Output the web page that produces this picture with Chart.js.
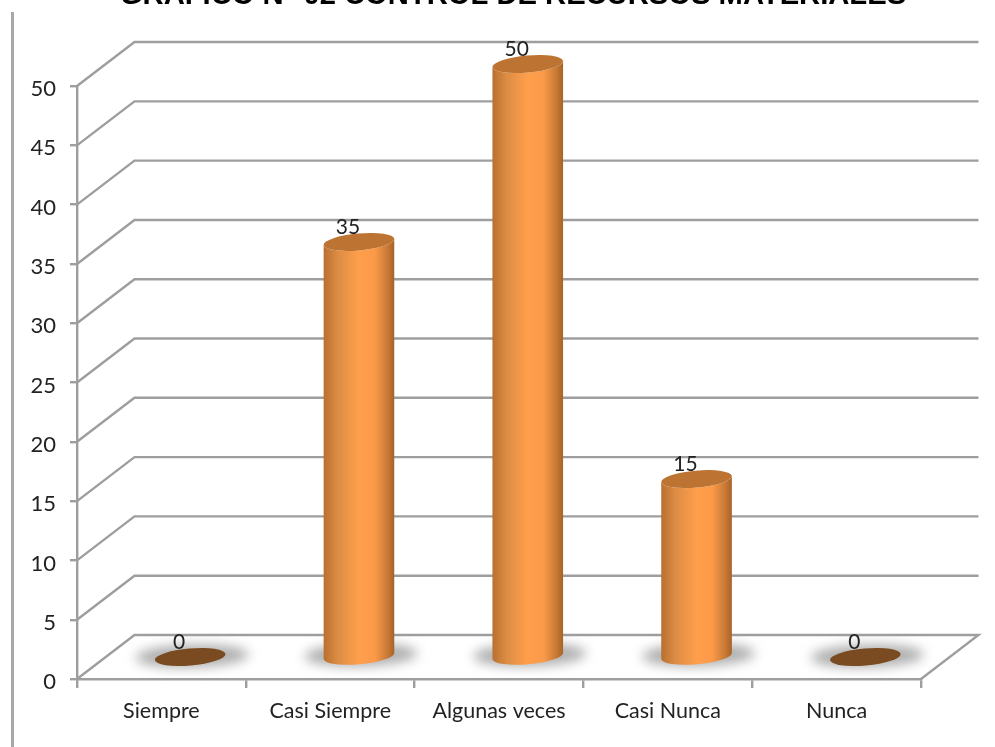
<!DOCTYPE html>
<html>
<head>
<meta charset="utf-8">
<style>
html,body{margin:0;padding:0;background:#fff;overflow:hidden}
#wrap{position:absolute;left:0;top:-22px;width:995px;height:769px}
</style>
<script src="https://cdn.jsdelivr.net/npm/chart.js@4"></script>
</head>
<body>
<div id="wrap"><canvas id="c"></canvas></div>
<script>
const categories = ['Siempre', 'Casi Siempre', 'Algunas veces', 'Casi Nunca', 'Nunca'];
const values = [0, 35, 50, 15, 0];
const chartTitle = 'GRAFICO N° 02 CONTROL DE RECURSOS MATERIALES';

const FONT = 'Lato, "Open Sans", sans-serif';
const LINE = '#9e9e9e';
const DEPTH_X = 57.5, DEPTH_Y = 44;
const TILT = -5 * Math.PI / 180;

// Back wall, side wall and floor of the pseudo-3D box, drawn from the scale ticks.
const box3d = {
  id: 'box3d',
  afterLayout(chart) {
    // Centre the heading over the whole sheet instead of the plot box
    chart.titleBlock.left = 31;
    chart.titleBlock.right = 995;
  },
  beforeDatasetsDraw(chart) {
    const { ctx, scales: { x, y } } = chart;
    const left = x.left, right = x.right;
    ctx.save();
    ctx.strokeStyle = LINE;
    ctx.lineWidth = 2.4;
    y.ticks.forEach(t => {
      const py = y.getPixelForValue(t.value);
      ctx.beginPath();
      ctx.moveTo(left, py);
      ctx.lineTo(left + DEPTH_X, py - DEPTH_Y);
      ctx.lineTo(right + DEPTH_X, py - DEPTH_Y);
      if (t.value === 0) ctx.lineTo(right, py);
      ctx.stroke();
    });
    // Frame edge running down the left of the sheet
    ctx.strokeStyle = '#a8a8a8';
    ctx.lineWidth = 3;
    ctx.beginPath();
    ctx.moveTo(12.5, 34);
    ctx.lineTo(12.5, chart.height);
    ctx.stroke();
    ctx.restore();
  }
};

// Renders each bar element as a cylinder with its floor shadow and value label.
const cylinders = {
  id: 'cylinders',
  afterDatasetsDraw(chart) {
    const { ctx } = chart;
    const meta = chart.getDatasetMeta(0);
    meta.data.forEach((bar, i) => {
      const cx = bar.x + DEPTH_X / 2;
      const top = bar.y - DEPTH_Y / 2;
      const base = bar.base - DEPTH_Y / 2;
      const rx = bar.width / 2, ry = 8.5;
      const ell = (yc) => ctx.ellipse(cx, yc, rx, ry, TILT, 0, Math.PI * 2);

      // Soft shadow on the floor
      ctx.save();
      ctx.filter = 'blur(6px)';
      ctx.fillStyle = '#aeaeae';
      ctx.beginPath();
      ctx.ellipse(cx + 2, base - 1, rx + 21, ry + 3, TILT / 3, 0, Math.PI * 2);
      ctx.fill();
      ctx.restore();

      if (values[i] === 0) {
        ctx.fillStyle = '#7a4a20';
        ctx.beginPath(); ell(base); ctx.fill();
      } else {
        const g = ctx.createLinearGradient(cx - rx, 0, cx + rx, 0);
        g.addColorStop(0, '#b8702f');
        g.addColorStop(0.2, '#dc8c44');
        g.addColorStop(0.5, '#ff9f4c');
        g.addColorStop(0.72, '#fb9b49');
        g.addColorStop(0.9, '#c97a36');
        g.addColorStop(1, '#a86226');
        ctx.fillStyle = g;
        ctx.beginPath();
        ctx.ellipse(cx, top, rx, ry, TILT, Math.PI, Math.PI * 2, true);
        ctx.ellipse(cx, base, rx, ry, TILT, 0, Math.PI);
        ctx.closePath();
        ctx.fill();
        ctx.fillStyle = '#bd7433';
        ctx.beginPath(); ell(top); ctx.fill();
      }

      ctx.save();
      ctx.fillStyle = '#222';
      ctx.font = '21px ' + FONT;
      ctx.textAlign = 'center';
      ctx.textBaseline = 'middle';
      ctx.fillText(String(values[i]), cx - 11, top - 15);
      ctx.restore();
    });
  }
};

// Value-axis labels sit slightly below their tick marks.
function lowerTickLabels(scale) {
  if (scale._labelsLowered) return;
  scale._labelsLowered = true;
  const compute = scale._computeLabelItems;
  scale._computeLabelItems = function (area) {
    const items = compute.call(this, area);
    items.forEach(item => { item.options.translation[1] += 3; });
    return items;
  };
}

new Chart(document.getElementById('c'), {
  type: 'bar',
  data: {
    labels: categories,
    datasets: [{
      data: values,
      backgroundColor: 'rgba(0,0,0,0)',
      borderWidth: 0,
      barPercentage: 0.42,
      categoryPercentage: 1
    }]
  },
  options: {
    responsive: true,
    maintainAspectRatio: false,
    animation: false,
    layout: { padding: { left: 0, right: 74, top: 0, bottom: 18 } },
    plugins: {
      legend: { display: false },
      tooltip: { enabled: false },
      title: {
        display: true,
        text: chartTitle,
        color: '#000',
        font: { family: 'Liberation Sans, sans-serif', size: 29.2, weight: 'bold' },
        position: 'top',
        align: 'center',
        padding: { top: 0, bottom: 73 }
      }
    },
    scales: {
      x: {
        afterFit(s) { s.height = 50; },
        grid: { display: true, drawOnChartArea: false, color: LINE, lineWidth: 2.4, tickLength: 9, offset: true },
        border: { color: LINE, width: 2.4 },
        ticks: { color: '#222', font: { family: FONT, size: 21.5 }, padding: 10, maxRotation: 0 }
      },
      y: {
        min: 0, max: 50,
        afterFit(s) { s.width = 77; lowerTickLabels(s); },
        grid: { display: true, drawOnChartArea: false, color: LINE, lineWidth: 2.4, tickLength: 7 },
        border: { color: LINE, width: 2.4 },
        ticks: { stepSize: 5, color: '#222', font: { family: FONT, size: 22 }, padding: 14 }
      }
    }
  },
  plugins: [box3d, cylinders]
});
</script>
</body>
</html>
